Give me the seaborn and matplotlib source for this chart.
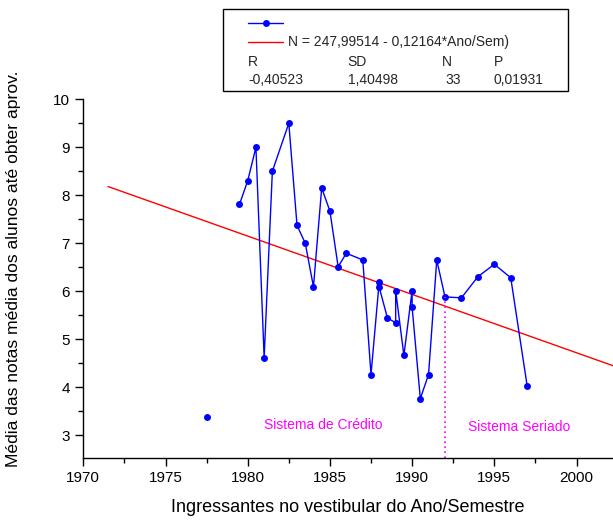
import matplotlib
matplotlib.use("Agg")
import matplotlib.pyplot as plt
from matplotlib.lines import Line2D
from matplotlib.patches import Rectangle
from matplotlib.ticker import MultipleLocator
import numpy as np
import pandas as pd
import seaborn as sns

# Mean grade per entry semester (connected series)
anos = [1979.5, 1980.0, 1980.5, 1981.0, 1981.5, 1982.5, 1983.0, 1983.5, 1984.0,
        1984.5, 1985.0, 1985.5, 1986.0, 1987.0, 1987.5, 1988.0, 1988.0, 1988.5,
        1989.0, 1989.0, 1989.5, 1990.0, 1990.0, 1990.5, 1991.0, 1991.5, 1992.0,
        1993.0, 1994.0, 1995.0, 1996.0, 1997.0]
notas = [7.81, 8.30, 9.00, 4.61, 8.50, 9.50, 7.37, 7.00, 6.09,
         8.15, 7.67, 6.51, 6.79, 6.65, 4.26, 6.20, 6.08, 5.44,
         5.34, 6.01, 4.66, 6.01, 5.67, 3.76, 4.26, 6.65, 5.88,
         5.86, 6.30, 6.56, 6.28, 4.02]

# Isolated early semester
ano_isolado = [1977.5]
nota_isolada = [3.38]

# Linear regression  N = A + B*Ano/Sem
coef_a = 247.99514
coef_b = -0.12164
reg_x = [1971.5, 2002.3]
stats_names = ["R", "SD", "N", "P"]
stats_values = ["-0,40523", "1,40498", "33", "0,01931"]

# Change of course system
ano_mudanca = 1992.0
nota_mudanca = 5.88

sns.set_theme(style="ticks")
plt.rcParams["font.family"] = ["Liberation Sans", "DejaVu Sans"]

fig = plt.figure(figsize=(6.13, 5.21), dpi=100)
ax = fig.add_axes([0.1359, 0.1215, 0.8641, 0.6879])

df = pd.DataFrame({"ano": anos, "nota": notas})
reg_df = pd.DataFrame({"ano": reg_x, "nota": [coef_a + coef_b * x for x in reg_x]})

sns.lineplot(data=reg_df, x="ano", y="nota", color="#ff0000", linewidth=1.0,
             ax=ax, estimator=None, sort=False)
sns.lineplot(data=df, x="ano", y="nota", color="#0000ff", linewidth=1.0,
             marker="o", markersize=5, markeredgewidth=0, ax=ax,
             estimator=None, sort=False)
sns.scatterplot(x=ano_isolado, y=nota_isolada, color="#0000ff", s=25,
                linewidth=0, ax=ax)

ax.plot([ano_mudanca, ano_mudanca], [2.0, nota_mudanca], color="#ff00ff",
        linewidth=1.2, linestyle=(0, (1, 2)))

ax.text(1981.0, 3.2, "Sistema de Crédito", color="#ff00ff", fontsize=10,
        va="center", ha="left")
ax.text(1993.4, 3.17, "Sistema Seriado", color="#ff00ff", fontsize=10,
        va="center", ha="left")

ax.set_xlim(1970, 2002.22)
ax.set_ylim(2.527, 10)
ax.xaxis.set_major_locator(MultipleLocator(5))
ax.xaxis.set_minor_locator(MultipleLocator(2.5))
ax.yaxis.set_major_locator(MultipleLocator(1))
ax.yaxis.set_minor_locator(MultipleLocator(0.5))
ax.tick_params(which="major", length=5.5, width=1, color="black",
               labelsize=11, pad=4, labelcolor="black")
ax.tick_params(which="minor", length=3.5, width=1, color="black")
for side in ["top", "right"]:
    ax.spines[side].set_visible(False)
for side in ["left", "bottom"]:
    ax.spines[side].set_color("black")
    ax.spines[side].set_linewidth(1.0)

ax.set_xlabel("Ingressantes no vestibular do Ano/Semestre", fontsize=13,
              color="black", labelpad=10)
ax.set_ylabel("Média das notas média dos alunos até obter aprov.", fontsize=12.6,
              color="black")
ax.yaxis.set_label_coords(-0.1176, 0.5265)

# Statistics box
bx0, bx1 = 223.3 / 613, 568.3 / 613
by0, by1 = 1 - 91.3 / 521, 1 - 9.3 / 521
fig.patches.append(Rectangle((bx0, by0), bx1 - bx0, by1 - by0,
                             transform=fig.transFigure, fill=False,
                             edgecolor="black", linewidth=1.0))
lx0, lx1 = 247.7 / 613, 283.3 / 613
y_row1 = 1 - 22.7 / 521
y_row2 = 1 - 42.0 / 521
fig.lines.append(Line2D([lx0, lx1], [y_row1, y_row1], transform=fig.transFigure,
                        color="#0000ff", linewidth=1.0))
fig.lines.append(Line2D([(lx0 + lx1) / 2], [y_row1], transform=fig.transFigure,
                        color="#0000ff", marker="o", markersize=5,
                        markeredgewidth=0))
fig.lines.append(Line2D([lx0, lx1], [y_row2, y_row2], transform=fig.transFigure,
                        color="#ff0000", linewidth=1.0))
fig.text(287.7 / 613, y_row2,
         f"N = {coef_a:.5f} - {abs(coef_b):.5f}*Ano/Sem)".replace(".", ","),
         fontsize=10, va="center", ha="left")
col_x = [248.3, 347.7, 441.7, 494.0]
val_x = [248.3, 347.7, 445.0, 494.0]
for name, val, cx, vx in zip(stats_names, stats_values, col_x, val_x):
    fig.text(cx / 613, 1 - 61.7 / 521, name, fontsize=10, va="center", ha="left")
    fig.text(vx / 613, 1 - 80.0 / 521, val, fontsize=10, va="center", ha="left")

fig.savefig("out.png", dpi=100)
